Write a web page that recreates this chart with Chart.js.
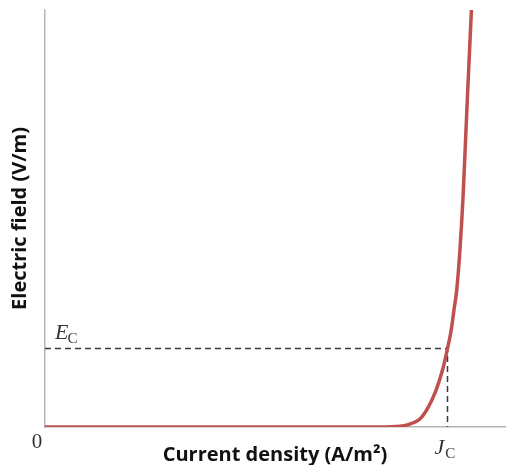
<!DOCTYPE html>
<html>
<head>
<meta charset="utf-8">
<script src="https://cdn.jsdelivr.net/npm/chart.js@4"></script>
<style>
html,body{margin:0;padding:0;background:#fff;}
#wrap{width:507px;height:465px;}
</style>
</head>
<body>
<div id="wrap"><canvas id="c" width="507" height="465"></canvas></div>
<script>
// Curve: current density (x) vs electric field (y), arbitrary units
const curveJ = [0, 7.28, 7.72, 7.93, 8.15, 8.33, 8.50, 8.64, 8.75, 8.83, 8.89, 8.95, 9.02, 9.09, 9.18, 9.27];
const curveE = [0, 0.00, 0.02, 0.07, 0.19, 0.47, 0.88, 1.36, 1.88, 2.32, 2.80, 3.28, 4.24, 5.56, 7.84, 10.0];
const criticalE = 1.88;   // E_C
const criticalJ = 8.75;   // J_C
const axisMax = [10, 10]; // x max, y max
const xTitle = 'Current density (A/m\u00B2)';
const yTitle = 'Electric field (V/m)';

const curvePts = curveJ.map((j, i) => ({x: j, y: curveE[i]}));
const dashPts = [{x: 0, y: criticalE}, {x: criticalJ, y: criticalE}, {x: criticalJ, y: 0}];

const labelPlugin = {
  id: 'labels',
  afterDatasetsDraw(chart) {
    const {ctx, scales: {x, y}, chartArea} = chart;
    ctx.save();
    ctx.fillStyle = '#333';
    ctx.textBaseline = 'alphabetic';
    // origin "0"
    ctx.font = '21px "Liberation Serif", serif';
    ctx.textAlign = 'center';
    ctx.fillText('0', x.getPixelForValue(0) - 8, chartArea.bottom + 21);
    // E_C
    const ex = x.getPixelForValue(0) + 10;
    const ey = y.getPixelForValue(criticalE) - 10;
    ctx.textAlign = 'left';
    ctx.font = 'italic 22px "Liberation Serif", serif';
    ctx.fillText('E', ex, ey);
    let w = ctx.measureText('E').width;
    ctx.font = '15px "Liberation Serif", serif';
    ctx.fillText('C', ex + w - 1, ey + 4);
    // J_C
    const jx = x.getPixelForValue(criticalJ) - 13;
    const jy = chartArea.bottom + 27;
    ctx.font = 'italic 22px "Liberation Serif", serif';
    ctx.fillText('J', jx, jy);
    w = ctx.measureText('J').width;
    ctx.font = '15px "Liberation Serif", serif';
    ctx.fillText('C', jx + w + 1, jy + 4);
    ctx.restore();
  }
};

new Chart(document.getElementById('c'), {
  type: 'scatter',
  data: {
    datasets: [
      {
        data: dashPts,
        showLine: true,
        borderColor: '#3a3a3a',
        borderWidth: 1.5,
        borderDash: [6, 4],
        pointRadius: 0,
        order: 2
      },
      {
        data: curvePts,
        showLine: true,
        borderColor: '#c0504d',
        borderWidth: 3.5,
        pointRadius: 0,
        cubicInterpolationMode: 'monotone',
        order: 1
      }
    ]
  },
  options: {
    responsive: false,
    animation: false,
    layout: {padding: {top: 10, right: 2, left: 0, bottom: 0}},
    plugins: {legend: {display: false}, tooltip: {enabled: false}},
    scales: {
      x: {
        type: 'linear', min: 0, max: axisMax[0],
        ticks: {display: false},
        grid: {display: false, drawTicks: false},
        border: {display: true, color: '#b5b5b5', width: 1.5},
        title: {display: true, text: xTitle, color: '#111',
          font: {family: '"Open Sans", sans-serif', size: 20, weight: 'bold', lineHeight: 1},
          padding: {top: 18, bottom: 0}}
      },
      y: {
        type: 'linear', min: 0, max: axisMax[1],
        ticks: {display: false},
        grid: {display: false, drawTicks: false},
        border: {display: true, color: '#b5b5b5', width: 1.5},
        title: {display: true, text: yTitle, color: '#111',
          font: {family: '"Open Sans", sans-serif', size: 20, weight: 'bold', lineHeight: 1},
          padding: {top: 10, bottom: 15}}
      }
    }
  },
  plugins: [labelPlugin]
});
</script>
</body>
</html>
